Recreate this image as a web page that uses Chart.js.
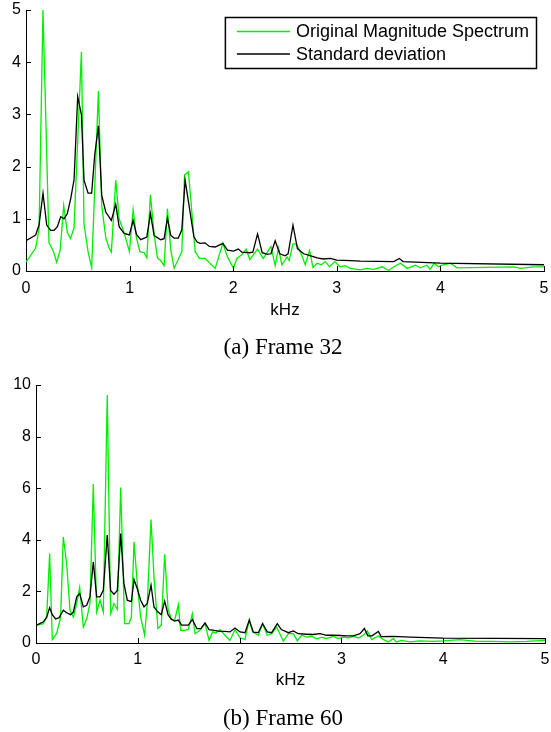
<!DOCTYPE html>
<html><head><meta charset="utf-8">
<script src="https://cdn.jsdelivr.net/npm/chart.js@4/dist/chart.umd.min.js"></script>
<style>
html,body{margin:0;padding:0;background:#fff;width:551px;height:732px;overflow:hidden}
.box{position:absolute;left:0;width:551px}
</style></head><body>
<div class="box" style="top:0;height:366px"><canvas id="c1"></canvas></div>
<div class="box" style="top:366px;height:366px"><canvas id="c2"></canvas></div>
<script>
// ---------- Frame 32 ----------
const magFreqA = [0,0.093,0.126,0.164,0.222,0.264,0.296,0.33,0.364,0.40,0.43,0.464,0.535,0.56,0.599,0.634,0.699,0.731,0.77,0.80,0.824,0.866,0.899,0.947,0.998,1.034,1.066,1.10,1.14,1.166,1.201,1.237,1.269,1.30,1.333,1.365,1.398,1.43,1.504,1.53,1.568,1.633,1.674,1.728,1.77,1.826,1.90,1.945,2.003,2.035,2.083,2.125,2.16,2.235,2.29,2.365,2.405,2.437,2.47,2.52,2.54,2.577,2.61,2.66,2.695,2.737,2.77,2.81,2.85,2.89,2.93,2.98,3.03,3.08,3.13,3.227,3.29,3.355,3.44,3.5,3.55,3.614,3.68,3.76,3.807,3.87,3.9,3.94,3.98,4.01,4.097,4.16,4.71,4.774,4.9,5.0];
const magA = [0.17,0.44,0.8,5.0,0.54,0.38,0.17,0.4,1.25,0.73,0.62,0.83,4.2,0.9,0.37,0.06,3.45,1.25,0.64,0.45,0.36,1.74,1.0,0.74,0.37,1.17,0.64,0.37,0.35,0.25,1.46,0.7,0.25,0.2,0.1,1.19,0.4,0.05,0.37,1.84,1.9,0.37,0.24,0.24,0.16,0.05,0.53,0.27,0.05,0.24,0.31,0.42,0.22,0.42,0.24,0.47,0.1,0.44,0.12,0.27,0.2,0.52,0.52,0.31,0.12,0.39,0.07,0.15,0.12,0.18,0.08,0.18,0.08,0.1,0.05,0.02,0.05,0.03,0.08,0.01,0.08,0.15,0.05,0.11,0.06,0.11,0.03,0.15,0.08,0.11,0.15,0.06,0.08,0.05,0.08,0.08];
const stdFreqA = [0,0.093,0.126,0.164,0.200,0.238,0.271,0.303,0.335,0.367,0.399,0.432,0.464,0.499,0.535,0.56,0.599,0.634,0.663,0.699,0.731,0.77,0.824,0.866,0.899,0.947,0.998,1.034,1.066,1.108,1.166,1.201,1.237,1.301,1.333,1.365,1.398,1.43,1.47,1.504,1.536,1.568,1.62,1.65,1.68,1.728,1.77,1.826,1.90,1.945,2.003,2.05,2.083,2.16,2.19,2.235,2.28,2.33,2.365,2.405,2.45,2.50,2.53,2.577,2.62,2.68,2.75,2.81,2.87,2.94,3.0,3.13,3.227,3.55,3.604,3.64,4.0,5.0];
const stdA = [0.58,0.69,0.88,1.49,0.88,0.78,0.78,0.85,1.04,1.0,1.1,1.39,1.75,3.34,2.99,1.74,1.49,1.49,2.22,2.78,1.45,1.13,0.97,1.28,0.85,0.72,0.69,0.97,0.7,0.6,0.65,1.1,0.68,0.6,0.62,1.01,0.68,0.63,0.63,0.79,1.74,1.33,0.66,0.56,0.53,0.54,0.47,0.46,0.53,0.40,0.38,0.42,0.36,0.35,0.36,0.71,0.35,0.32,0.33,0.58,0.33,0.29,0.33,0.88,0.43,0.33,0.29,0.25,0.23,0.24,0.21,0.2,0.19,0.18,0.24,0.18,0.15,0.12];

// ---------- Frame 60 ----------
const magFreqB = [0.007,0.072,0.105,0.134,0.16,0.203,0.242,0.268,0.301,0.334,0.367,0.396,0.429,0.465,0.498,0.53,0.563,0.596,0.629,0.661,0.70,0.733,0.766,0.799,0.832,0.87,0.914,0.937,0.963,0.995,1.028,1.067,1.093,1.13,1.159,1.198,1.231,1.264,1.297,1.329,1.362,1.398,1.421,1.454,1.496,1.536,1.562,1.61,1.66,1.70,1.735,1.768,1.807,1.856,1.905,1.955,2.004,2.053,2.095,2.128,2.184,2.226,2.272,2.315,2.364,2.43,2.479,2.528,2.567,2.61,2.659,2.708,2.757,2.806,2.855,2.92,2.97,3.02,3.068,3.117,3.166,3.215,3.255,3.297,3.363,3.41,3.46,3.51,3.54,3.59,3.674,3.77,3.9,4.0,4.165,4.33,4.49,4.655,4.82,5.0];
const magB = [0.69,0.75,1.0,3.47,0.13,0.36,1.0,4.11,3.08,1.27,1.0,1.46,2.15,0.62,0.94,1.53,6.16,1.2,1.66,1.2,9.61,1.14,1.53,1.3,6.03,0.75,0.75,1.0,3.92,2.3,1.0,0.3,1.53,4.79,2.56,0.56,0.69,3.44,1.33,0.94,0.88,1.49,0.49,0.49,0.52,1.14,0.36,0.49,0.75,0.1,0.43,0.39,0.52,0.3,0.1,0.52,0.2,0.13,0.91,0.43,0.3,0.75,0.3,0.36,0.62,0.07,0.36,0.36,0.08,0.3,0.23,0.26,0.15,0.23,0.17,0.26,0.17,0.23,0.2,0.26,0.19,0.3,0.47,0.13,0.27,0.14,0.04,0.17,0.04,0.1,0.04,0.08,0.06,0.08,0.13,0.06,0.06,0.04,0.06,0.1];
const stdFreqB = [0.007,0.072,0.105,0.134,0.16,0.193,0.226,0.268,0.301,0.34,0.367,0.40,0.429,0.465,0.498,0.53,0.563,0.596,0.629,0.661,0.70,0.733,0.766,0.799,0.832,0.864,0.897,0.937,0.963,0.995,1.028,1.061,1.093,1.13,1.159,1.198,1.231,1.264,1.297,1.329,1.362,1.398,1.43,1.496,1.536,1.58,1.62,1.66,1.70,1.75,1.807,1.856,1.905,1.955,2.004,2.053,2.095,2.135,2.184,2.226,2.272,2.315,2.37,2.41,2.479,2.528,2.577,2.659,2.72,2.79,2.855,2.92,2.985,3.05,3.117,3.183,3.226,3.26,3.30,3.363,3.39,3.51,3.674,4.0,5.0];
const stdB = [0.69,0.82,1.0,1.37,1.1,0.93,0.98,1.27,1.17,1.1,1.2,1.79,1.92,1.4,1.46,1.79,3.14,1.79,1.79,2.04,4.18,2.04,1.89,2.04,4.24,2.3,1.66,1.6,2.46,2.1,1.66,1.4,1.53,2.24,1.4,1.2,1.1,1.62,1.1,0.92,0.85,0.89,0.69,0.69,0.91,0.56,0.56,0.78,0.52,0.49,0.45,0.45,0.43,0.58,0.43,0.4,0.88,0.42,0.4,0.75,0.43,0.4,0.75,0.52,0.4,0.47,0.36,0.34,0.33,0.36,0.3,0.3,0.29,0.28,0.28,0.36,0.56,0.28,0.28,0.45,0.25,0.26,0.23,0.19,0.17];

const xTicks = [0,1,2,3,4,5];
const seriesLabels = ['Original Magnitude Spectrum','Standard deviation'];
const captions = ['(a) Frame 32','(b) Frame 60'];
const axisTitle = 'kHz';

const SANS = '"Liberation Sans", Arial, sans-serif';
const SERIF = '"Liberation Serif", "Times New Roman", serif';
const GREEN = '#00ee00';

function pts(xs, ys){ return xs.map((x,i)=>({x:x, y:ys[i]})); }

const inwardTicks = {
  id:'inwardTicks',
  afterDatasetsDraw(chart){
    const {ctx, chartArea:a, scales:{x,y}} = chart;
    ctx.save(); ctx.strokeStyle='#000'; ctx.lineWidth=1; ctx.beginPath();
    x.ticks.forEach(t=>{ const px=Math.round(x.getPixelForValue(t.value))+0.5; ctx.moveTo(px,a.bottom); ctx.lineTo(px,a.bottom-5); });
    y.ticks.forEach(t=>{ const py=Math.round(y.getPixelForValue(t.value))+0.5; ctx.moveTo(a.left,py); ctx.lineTo(a.left+5,py); });
    ctx.stroke(); ctx.restore();
  }
};

const caption = {
  id:'caption',
  afterDraw(chart, args, opts){
    const ctx = chart.ctx;
    ctx.save();
    ctx.font = '23px ' + SERIF; ctx.fillStyle='#000';
    ctx.textAlign='center'; ctx.textBaseline='middle';
    ctx.fillText(opts.text, opts.x, opts.y);
    ctx.restore();
  }
};

const boxLegend = {
  id:'boxLegend',
  afterDraw(chart, args, opts){
    if(!opts.show) return;
    const {ctx, chartArea:a} = chart;
    const ds = chart.data.datasets;
    ctx.save();
    ctx.font = '18px ' + SANS;
    let tw = 0; ds.forEach(d=>{ tw=Math.max(tw, ctx.measureText(d.label).width); });
    const lineLen=53, padL=12, gap=6, padR=7, h=51;
    const w = padL+lineLen+gap+tw+padR;
    const right = a.right-8, left = right-w, top = a.top+7;
    ctx.fillStyle='#fff'; ctx.fillRect(left,top,w,h);
    ctx.strokeStyle='#000'; ctx.lineWidth=1.5; ctx.strokeRect(left+0.5,top+0.5,w,h);
    ds.forEach((d,i)=>{
      const cy = top + 14.5 + i*22.5;
      ctx.strokeStyle=d.borderColor; ctx.lineWidth=1.5;
      ctx.beginPath(); ctx.moveTo(left+padL,cy); ctx.lineTo(left+padL+lineLen,cy); ctx.stroke();
      ctx.fillStyle='#000'; ctx.textBaseline='middle'; ctx.textAlign='left';
      ctx.fillText(d.label, left+padL+lineLen+gap, cy+1);
    });
    ctx.restore();
  }
};

function makeChart(id, cfg){
  return new Chart(document.getElementById(id), {
    type:'line',
    data:{ datasets:[
      {label:seriesLabels[0], data:pts(cfg.mf,cfg.m), borderColor:GREEN, borderWidth:1.3, pointRadius:0, tension:0, order:1},
      {label:seriesLabels[1], data:pts(cfg.sf,cfg.s), borderColor:'#000', borderWidth:1.3, pointRadius:0, tension:0, order:0}
    ]},
    options:{
      responsive:true, maintainAspectRatio:false, animation:false, devicePixelRatio:1,
      layout:{padding:cfg.pad},
      plugins:{
        legend:{display:false}, tooltip:{enabled:false}, title:{display:false},
        caption:{text:cfg.caption, x:283, y:cfg.capY},
        boxLegend:{show:cfg.legend}
      },
      scales:{
        x:{type:'linear', min:0, max:5,
          afterBuildTicks:s=>{ s.ticks = xTicks.map(v=>({value:v})); },
          afterFit:s=>{ s.height=cfg.xh; s.paddingLeft=0; s.paddingRight=0; },
          grid:{display:false, drawTicks:false},
          border:{display:true, color:'#000', width:1},
          ticks:{color:'#000', font:{family:SANS, size:16}, padding:cfg.tickPad, maxRotation:0, autoSkip:false},
          title:{display:true, text:axisTitle, color:'#000', font:{family:SANS, size:17, lineHeight:1}, padding:{top:0,bottom:cfg.kPad}}
        },
        y:{type:'linear', min:0, max:cfg.ymax,
          afterFit:s=>{ s.width=cfg.yw; s.paddingTop=0; s.paddingBottom=0; },
          grid:{display:false, drawTicks:false},
          border:{display:true, color:'#000', width:1},
          ticks:{stepSize:cfg.ystep, color:'#000', font:{family:SANS, size:16}, padding:5}
        }
      }
    },
    plugins:[inwardTicks, boxLegend, caption]
  });
}

makeChart('c1', {mf:magFreqA, m:magA, sf:stdFreqA, s:stdA, caption:captions[0], legend:true, capY:348,
  pad:{top:10,right:7,left:0,bottom:31.5}, yw:26, xh:63.5, kPad:16, tickPad:8, ymax:5, ystep:1});
makeChart('c2', {mf:magFreqB, m:magB, sf:stdFreqB, s:stdB, caption:captions[1], legend:false, capY:353,
  pad:{top:19,right:6,left:0,bottom:27}, yw:36, xh:62, kPad:16.5, tickPad:7, ymax:10, ystep:2});
</script>
</body></html>
